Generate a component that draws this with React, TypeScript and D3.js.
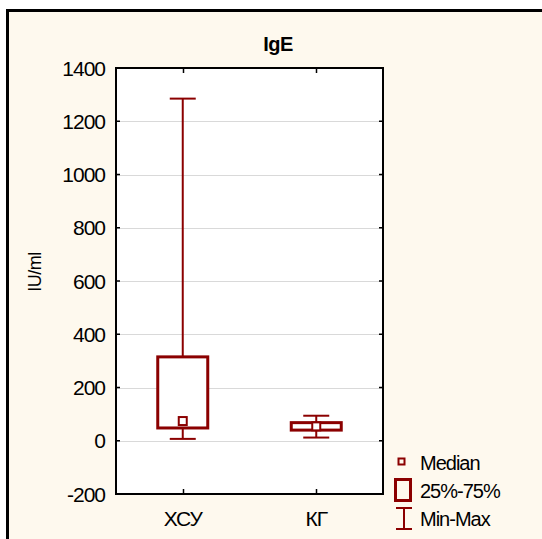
import React from "react";
import * as d3 from "d3";

// Groups and their box-plot statistics (IU/ml)
const categories = ["ХСУ", "КГ"];
const minValues = [7, 12];
const q1Values = [48, 40];
const medianValues = [74, 54];
const q3Values = [315, 68];
const maxValues = [1285, 94];
const yTicks = [-200, 0, 200, 400, 600, 800, 1000, 1200, 1400];
const legendLabels = ["Median", "25%-75%", "Min-Max"];

const W = 542;
const H = 539;
const plot = { left: 116, top: 68, right: 383, bottom: 494 };
const RED = "#8B0000";
const FONT = "'Liberation Sans', Arial, sans-serif";

export default function App() {
  const x = d3
    .scaleBand<string>()
    .domain(categories)
    .range([plot.left, plot.right])
    .paddingInner(0)
    .paddingOuter(0);
  const y = d3.scaleLinear().domain([-200, 1400]).range([plot.bottom, plot.top]);

  const boxW = 50;
  const capW = 26;
  const medSize = 8;

  return (
    <svg
      width={W}
      height={H}
      style={{ position: "absolute", left: 0, top: 0, background: "#ffffff" }}
      fontFamily={FONT}
    >
      {/* outer frame */}
      <rect x={7.5} y={10.5} width={W + 10} height={H + 10} fill="#FEF9EE" stroke="#000" strokeWidth={3} />

      {/* title */}
      <text x={278} y={51} textAnchor="middle" fontSize={20} fontWeight="bold" fill="#000" letterSpacing={-0.5}>
        IgE
      </text>

      {/* plot background */}
      <rect
        x={plot.left}
        y={plot.top}
        width={plot.right - plot.left}
        height={plot.bottom - plot.top}
        fill="#fff"
      />

      {/* grid lines */}
      {yTicks.map((t) => (
        <line
          key={"g" + t}
          x1={plot.left}
          x2={plot.right}
          y1={Math.round(y(t)) + 0.5}
          y2={Math.round(y(t)) + 0.5}
          stroke="#d9d9d9"
          strokeWidth={1}
        />
      ))}

      {/* boxes and whiskers */}
      {categories.map((c, i) => {
        const cx = (x(c) ?? 0) + x.bandwidth() / 2;
        return (
          <g key={c} stroke={RED} fill="none">
            <line x1={cx} x2={cx} y1={y(maxValues[i])} y2={y(q3Values[i])} strokeWidth={2} />
            <line x1={cx} x2={cx} y1={y(q1Values[i])} y2={y(minValues[i])} strokeWidth={2} />
            <line x1={cx - capW / 2} x2={cx + capW / 2} y1={y(maxValues[i])} y2={y(maxValues[i])} strokeWidth={2} />
            <line x1={cx - capW / 2} x2={cx + capW / 2} y1={y(minValues[i])} y2={y(minValues[i])} strokeWidth={2} />
            <rect
              x={cx - boxW / 2}
              y={y(q3Values[i])}
              width={boxW}
              height={y(q1Values[i]) - y(q3Values[i])}
              fill="#fff"
              strokeWidth={3}
            />
            <rect
              x={cx - medSize / 2}
              y={y(medianValues[i]) - medSize / 2}
              width={medSize}
              height={medSize}
              fill="#fff"
              strokeWidth={2}
            />
          </g>
        );
      })}

      {/* axis ticks (inward on all sides) */}
      {yTicks.map((t) => (
        <g key={"t" + t} stroke="#000" strokeWidth={1.5}>
          <line x1={plot.left} x2={plot.left + 4} y1={y(t)} y2={y(t)} />
          <line x1={plot.right - 4} x2={plot.right} y1={y(t)} y2={y(t)} />
        </g>
      ))}
      {categories.map((c) => {
        const cx = Math.round((x(c) ?? 0) + x.bandwidth() / 2) + 0.5;
        return (
          <g key={"ct" + c} stroke="#000" strokeWidth={1.5}>
            <line x1={cx} x2={cx} y1={plot.top} y2={plot.top + 5} />
            <line x1={cx} x2={cx} y1={plot.bottom - 5} y2={plot.bottom} />
          </g>
        );
      })}

      {/* plot border */}
      <rect
        x={plot.left}
        y={plot.top}
        width={plot.right - plot.left}
        height={plot.bottom - plot.top}
        fill="none"
        stroke="#000"
        strokeWidth={2}
      />

      {/* y tick labels */}
      {yTicks.map((t) => (
        <text key={"l" + t} x={105} y={y(t) + 7.5} textAnchor="end" fontSize={21} fill="#000" letterSpacing={-1}>
          {t}
        </text>
      ))}

      {/* category labels */}
      {categories.map((c) => (
        <text
          key={"cl" + c}
          x={(x(c) ?? 0) + x.bandwidth() / 2}
          y={526}
          textAnchor="middle"
          fontSize={21}
          fill="#000"
          letterSpacing={-1}
        >
          {c}
        </text>
      ))}

      {/* y axis title */}
      <text
        transform={`translate(41,272) rotate(-90)`}
        textAnchor="middle"
        fontSize={18}
        fill="#000"
        letterSpacing={-0.5}
      >
        IU/ml
      </text>

      {/* legend */}
      <g stroke={RED} fill="none">
        <rect x={398.5} y={458.5} width={6} height={6} strokeWidth={2} />
        <rect x={395.5} y={479.5} width={15} height={21} strokeWidth={3} />
        <line x1={396} x2={412} y1={508} y2={508} strokeWidth={2} />
        <line x1={404} x2={404} y1={508} y2={529} strokeWidth={2} />
        <line x1={396} x2={412} y1={529} y2={529} strokeWidth={2} />
      </g>
      {legendLabels.map((l, i) => (
        <text key={l} x={420} y={470 + i * 28} fontSize={20} fill="#000" letterSpacing={-1}>
          {l}
        </text>
      ))}
    </svg>
  );
}
